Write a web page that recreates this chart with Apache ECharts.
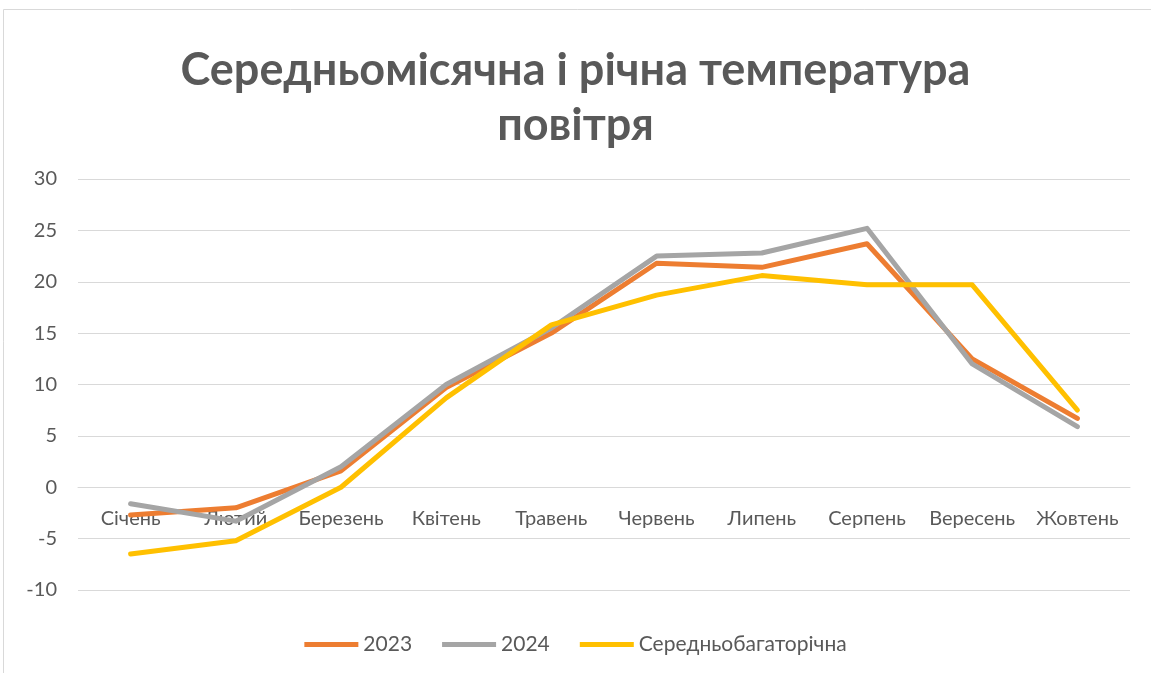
<!DOCTYPE html>
<html><head><meta charset="utf-8">
<script src="https://cdn.jsdelivr.net/npm/echarts@6/dist/echarts.min.js"></script>
<style>html,body{margin:0;padding:0;background:#fff}#c{width:1151px;height:673px}</style>
</head><body><div id="c"></div>
<script>
const categories = ['Січень','Лютий','Березень','Квітень','Травень','Червень','Липень','Серпень','Вересень','Жовтень'];
const s2023 = [-2.7, -2.0, 1.6, 9.7, 15.0, 21.8, 21.4, 23.7, 12.5, 6.7];
const s2024 = [-1.6, -3.3, 2.0, 10.0, 15.5, 22.5, 22.8, 25.2, 12.0, 5.9];
const sAvg  = [-6.5, -5.2, 0.0, 8.7, 15.8, 18.7, 20.6, 19.7, 19.7, 7.5];
const seriesNames = ['2023','2024','Середньобагаторічна'];
const colors = ['#ED7D31','#A5A5A5','#FFC000'];
const titleText = 'Середньомісячна і річна температура\nповітря';

const chart = echarts.init(document.getElementById('c'));
const font = 'Lato, "Open Sans", sans-serif';
const gridTop = 179, gridBottom = 83, yMin = -10, yMax = 30;
const plotH = 673 - gridTop - gridBottom;
const zeroOffset = -plotH * (0 - yMin) / (yMax - yMin);
chart.setOption({
  animation:false,
  backgroundColor:'#fff',
  graphic:[{type:'rect',shape:{x:3.5,y:9.5,width:1200,height:700},style:{fill:'none',stroke:'#D9D9D9',lineWidth:1}}],
  title:{text:titleText,left:'center',top:38,textStyle:{fontFamily:font,fontWeight:'bold',fontSize:45,color:'#595959',lineHeight:55}},
  legend:{top:629,left:'center',itemWidth:54,itemHeight:5,itemGap:30,icon:'rect',
    textStyle:{fontFamily:font,fontSize:21,color:'#595959'},data:seriesNames},
  grid:{left:78,right:21,top:gridTop,bottom:gridBottom,containLabel:false},
  xAxis:{type:'category',data:categories,boundaryGap:true,position:'bottom',offset:zeroOffset,
    axisLine:{show:true,onZero:false,lineStyle:{color:'#D9D9D9',width:1}},
    axisTick:{show:false},
    axisLabel:{margin:21,fontFamily:font,fontSize:20,color:'#595959',interval:0}},
  yAxis:{type:'value',min:yMin,max:yMax,interval:5,
    axisLine:{show:false},axisTick:{show:false},
    splitLine:{lineStyle:{color:'#D9D9D9',width:1}},
    axisLabel:{margin:21,fontFamily:font,fontSize:20,color:'#595959'}},
  series:[
    {name:seriesNames[0],type:'line',data:s2023,symbol:'none',lineStyle:{width:5,color:colors[0],cap:'round',join:'round'},itemStyle:{color:colors[0]},z:2},
    {name:seriesNames[1],type:'line',data:s2024,symbol:'none',lineStyle:{width:5,color:colors[1],cap:'round',join:'round'},itemStyle:{color:colors[1]},z:3},
    {name:seriesNames[2],type:'line',data:sAvg,symbol:'none',lineStyle:{width:5,color:colors[2],cap:'round',join:'round'},itemStyle:{color:colors[2]},z:4}
  ]
});
</script></body></html>
